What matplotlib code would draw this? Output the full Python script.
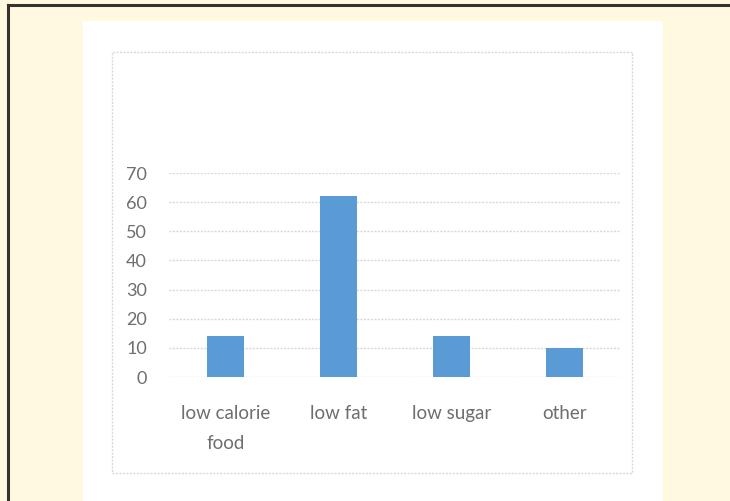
import matplotlib
matplotlib.use("Agg")
import matplotlib.pyplot as plt
from matplotlib.patches import Rectangle
from matplotlib.lines import Line2D

categories = ["low calorie\nfood", "low fat", "low sugar", "other"]
values = [14, 62, 14, 10]
y_ticks = [0, 10, 20, 30, 40, 50, 60, 70]

W, H = 730, 501
fig = plt.figure(figsize=(W / 100, H / 100), dpi=100, facecolor="#FFFADF")

def fx(px):
    return px / W

def fy(py):
    return 1 - py / H

# dark page edge along top and left
fig.add_artist(Line2D([fx(8), 1], [fy(5), fy(5)], color="#333333", lw=2.2, zorder=-1))
fig.add_artist(Line2D([fx(8), fx(8)], [fy(5), 0], color="#333333", lw=2.2, zorder=-1))

# white panel
fig.add_artist(Rectangle((fx(83), 0), fx(663) - fx(83), fy(21),
                         facecolor="white", edgecolor="none", zorder=-3))

# chart area frame
fig.add_artist(Rectangle((fx(112), fy(473)), fx(632) - fx(112), fy(52) - fy(473),
                         facecolor="white", edgecolor="#D9D9D9", lw=1.0,
                         linestyle=(0, (1.5, 1)), zorder=-2))

ax = fig.add_axes([fx(169), fy(377), fx(621) - fx(169), fy(173) - fy(377)])
ax.set_facecolor("none")
x = list(range(len(categories)))
ax.bar(x, values, width=0.32, color="#5B9BD5", zorder=3)
ax.set_xlim(-0.5, len(categories) - 0.5)
ax.set_ylim(0, 70)
ax.set_yticks(y_ticks)
ax.set_yticklabels([str(v) for v in y_ticks])
ax.yaxis.grid(True, color="#D9D9D9", lw=1.0, linestyle=(0, (1.5, 1)))
ax.set_axisbelow(True)
for s in ax.spines.values():
    s.set_visible(False)
ax.tick_params(axis="y", length=0, pad=16, labelsize=13, labelcolor="#6E6E6E")
ax.set_xticks(x)
ax.set_xticklabels(categories, fontsize=13.5, color="#6E6E6E", linespacing=1.95)
ax.tick_params(axis="x", length=0, pad=20)
for lbl in ax.get_xticklabels() + ax.get_yticklabels():
    lbl.set_family(["Lato", "DejaVu Sans"])

fig.savefig("out.png", dpi=100, facecolor=fig.get_facecolor())
